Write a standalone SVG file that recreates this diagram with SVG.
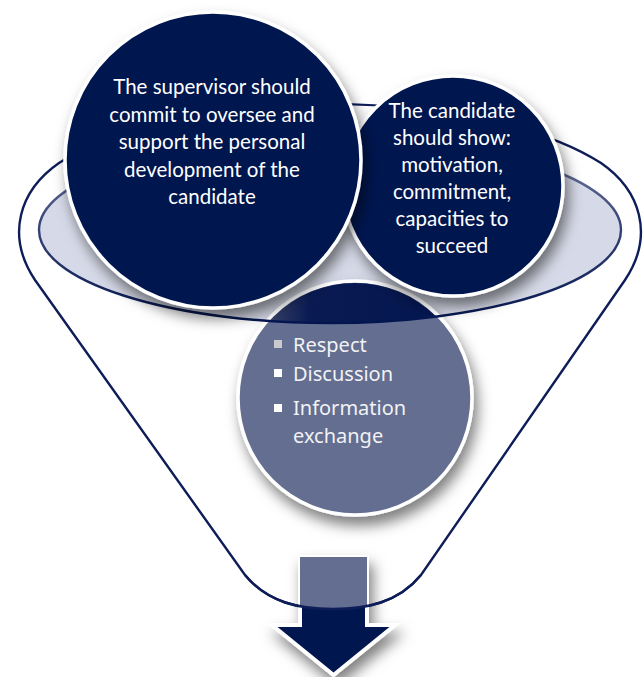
<svg xmlns="http://www.w3.org/2000/svg" width="644" height="677" viewBox="0 0 644 677">
<style>
.dark{fill:#02154f}
.mid{fill:#636e91}
.ring{stroke:#ffffff;stroke-width:3.5}
.ctext{font-family:Lato,"Open Sans",sans-serif;font-size:20.5px;fill:#ffffff;text-anchor:middle}
.btext{font-family:"Noto Sans","Open Sans",sans-serif;font-size:20px;fill:#f2f2f4}
</style>
<defs>
<filter id="sh" x="-30%" y="-30%" width="160%" height="160%">
<feDropShadow dx="4" dy="9" stdDeviation="7" flood-color="#000" flood-opacity="0.5"/>
</filter>
<linearGradient id="rimStroke" x1="0" y1="0" x2="0" y2="1">
<stop offset="0" stop-color="#7a84a8"/>
<stop offset="0.45" stop-color="#3a4678"/>
<stop offset="1" stop-color="#02154f"/>
</linearGradient>
<linearGradient id="overlap" x1="0" y1="0" x2="1" y2="0">
<stop offset="0" stop-color="#5a5f78"/>
<stop offset="0.3" stop-color="#0a1a52"/>
<stop offset="1" stop-color="#02154f"/>
</linearGradient>
<clipPath id="ellClip"><ellipse cx="330" cy="230" rx="291" ry="93"/></clipPath>
<clipPath id="funnelClip"><path d="M 59,163 C 20,190 5,235 35,280 L 245,575 C 268,603 300,609 333,609 C 366,609 398,603 421,575 L 625,280 C 655,235 640,190 601,163 A 315 120 0 0 0 59,163 Z"/></clipPath>
</defs>
<rect width="644" height="677" fill="#ffffff"/>

<g id="funnel">
<path d="M 59,163 C 20,190 5,235 35,280 L 245,575 C 268,603 300,609 333,609 C 366,609 398,603 421,575 L 625,280 C 655,235 640,190 601,163 A 315 120 0 0 0 59,163 Z" fill="none" stroke="#0e1d58" stroke-width="2.4"/>
</g>

<g id="rim">
<ellipse cx="330" cy="230" rx="291" ry="93" fill="#d6d9e7"/>
</g>

<g id="node-exchange">
<circle cx="355" cy="398" r="117" class="mid ring" filter="url(#sh)"/>
<circle cx="355" cy="398" r="115" fill="url(#overlap)" clip-path="url(#ellClip)"/>
<rect x="274" y="340" width="8" height="8" fill="#c9cad0"/>
<rect x="274" y="369" width="8" height="8" fill="#ffffff"/>
<rect x="274" y="404" width="8" height="8" fill="#ffffff"/>
<text class="btext" x="293" y="352">Respect</text>
<text class="btext" x="293" y="381">Discussion</text>
<text class="btext" x="293" y="415">Information</text>
<text class="btext" x="293" y="443">exchange</text>
</g>

<ellipse cx="330" cy="230" rx="291" ry="93" fill="none" stroke="url(#rimStroke)" stroke-width="2.4"/>

<g id="node-candidate">
<circle cx="453" cy="186" r="110" class="dark ring" filter="url(#sh)"/>
<text class="ctext" x="452" y="118">The candidate</text>
<text class="ctext" x="452" y="145">should show:</text>
<text class="ctext" x="452" y="172">motivation,</text>
<text class="ctext" x="452" y="199">commitment,</text>
<text class="ctext" x="452" y="226">capacities to</text>
<text class="ctext" x="452" y="253">succeed</text>
</g>

<g id="node-supervisor">
<circle cx="213" cy="160" r="148" class="dark ring" filter="url(#sh)"/>
<text class="ctext" x="212" y="94">The supervisor should</text>
<text class="ctext" x="212" y="121.5">commit to oversee and</text>
<text class="ctext" x="212" y="149">support the personal</text>
<text class="ctext" x="212" y="176.5">development of the</text>
<text class="ctext" x="212" y="204">candidate</text>
</g>

<g id="connectors">
<path d="M300,557 H367 V625 H395 L333.5,675 L272,625 H300 Z" class="dark" stroke="#ffffff" stroke-width="4" stroke-linejoin="miter" filter="url(#sh)"/>
<rect x="300" y="557" width="67" height="70" class="mid" clip-path="url(#funnelClip)"/>
<path d="M 245,575 C 268,603 300,609 333,609 C 366,609 398,603 421,575" fill="none" stroke="#0e1d58" stroke-width="2.4"/>
</g>
</svg>
